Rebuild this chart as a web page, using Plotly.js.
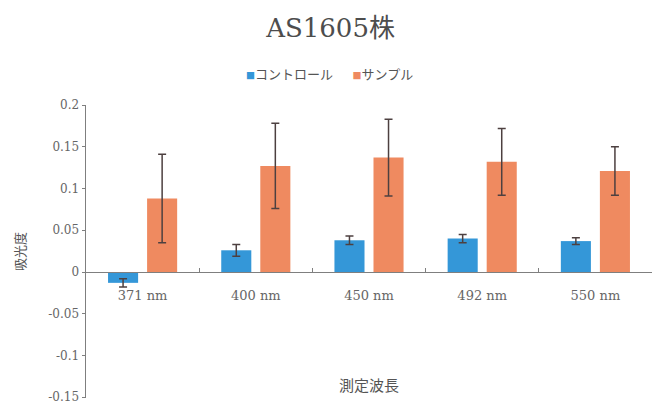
<!DOCTYPE html>
<html>
<head>
<meta charset="utf-8">
<script src="https://cdn.plot.ly/plotly-3.0.1.min.js"></script>
<style>
  html, body { margin: 0; padding: 0; background: #fff; }
  #chart { width: 652px; height: 405px; }
</style>
</head>
<body>
<div id="chart"></div>
<script>
// Absorbance of strain AS1605 at each measured wavelength
const wavelengths = ['371 nm', '400 nm', '450 nm', '492 nm', '550 nm'];
const seriesNames = ['コントロール', 'サンプル'];
const seriesColors = ['#3497d8', '#ef8a60'];
const controlValues = [-0.013, 0.026, 0.038, 0.040, 0.037];
const controlErrors = [0.005, 0.007, 0.005, 0.005, 0.004];
const sampleValues = [0.088, 0.127, 0.137, 0.132, 0.121];
const sampleErrors = [0.053, 0.051, 0.046, 0.040, 0.029];
const yTickValues = [-0.15, -0.1, -0.05, 0, 0.05, 0.1, 0.15, 0.2];
const yTickLabels = ['-0.15', '-0.1', '-0.05', '0', '0.05', '0.1', '0.15', '0.2'];

const yRange = [-0.1509, 0.2];
const serif = '"DejaVu Serif", "Liberation Serif", "Noto Sans CJK JP", serif';
const gothic = '"Noto Sans CJK JP", "DejaVu Sans", sans-serif';
const errStyle = { type: 'data', visible: true, color: '#4d4040', thickness: 1.5, width: 4 };

const traces = [
  {
    type: 'bar', name: seriesNames[0], x: wavelengths, y: controlValues,
    marker: { color: seriesColors[0] },
    error_y: Object.assign({ array: controlErrors }, errStyle)
  },
  {
    type: 'bar', name: seriesNames[1], x: wavelengths, y: sampleValues,
    marker: { color: seriesColors[1] },
    error_y: Object.assign({ array: sampleErrors }, errStyle)
  }
];

// Compact legend: small colour square right before each series name
const legendText = seriesNames.map((name, i) =>
  '<span style="font-size:9px;color:' + seriesColors[i] + '">■</span>' + name
).join('\u2003\u2002');

// The category axis crosses the value axis at zero
const zeroPos = (0 - yRange[0]) / (yRange[1] - yRange[0]);

const layout = {
  width: 652, height: 405,
  margin: { l: 86, r: 0, t: 105, b: 7 },
  paper_bgcolor: '#fff', plot_bgcolor: '#fff',
  barmode: 'group', bargap: 0.31, bargroupgap: 0.23,
  showlegend: false,
  title: {
    text: 'AS1605株',
    font: { family: serif, size: 26, color: '#4d4d4d' },
    x: 0.507, xref: 'container', xanchor: 'center',
    y: 0.93, yref: 'container', yanchor: 'middle'
  },
  annotations: [{
    text: legendText, showarrow: false,
    xref: 'paper', yref: 'paper', x: 0.431, y: 1.109,
    xanchor: 'center', yanchor: 'middle',
    font: { family: gothic, size: 13, color: '#555' }
  }],
  xaxis: {
    type: 'category', anchor: 'free', position: zeroPos,
    showline: true, linecolor: '#7f7f7f', linewidth: 1.5,
    ticks: 'inside', tickson: 'boundaries', ticklen: 4, tickcolor: '#7f7f7f',
    ticklabelstandoff: 11,
    showgrid: false, zeroline: false,
    tickfont: { family: serif, size: 13, color: '#666' },
    title: {
      text: '測定波長', standoff: 78,
      font: { family: gothic, size: 15, color: '#555' }
    }
  },
  yaxis: {
    range: yRange, tickvals: yTickValues, ticktext: yTickLabels,
    showline: true, linecolor: '#7f7f7f', linewidth: 1.5,
    ticks: 'outside', ticklen: 3, tickcolor: '#7f7f7f',
    ticklabeloverflow: 'allow',
    showgrid: false, zeroline: false,
    tickfont: { family: serif, size: 12, color: '#666' },
    title: {
      text: '吸光度', standoff: 20,
      font: { family: gothic, size: 13, color: '#555' }
    }
  }
};

Plotly.newPlot('chart', traces, layout, { displayModeBar: false, staticPlot: true });
</script>
</body>
</html>
